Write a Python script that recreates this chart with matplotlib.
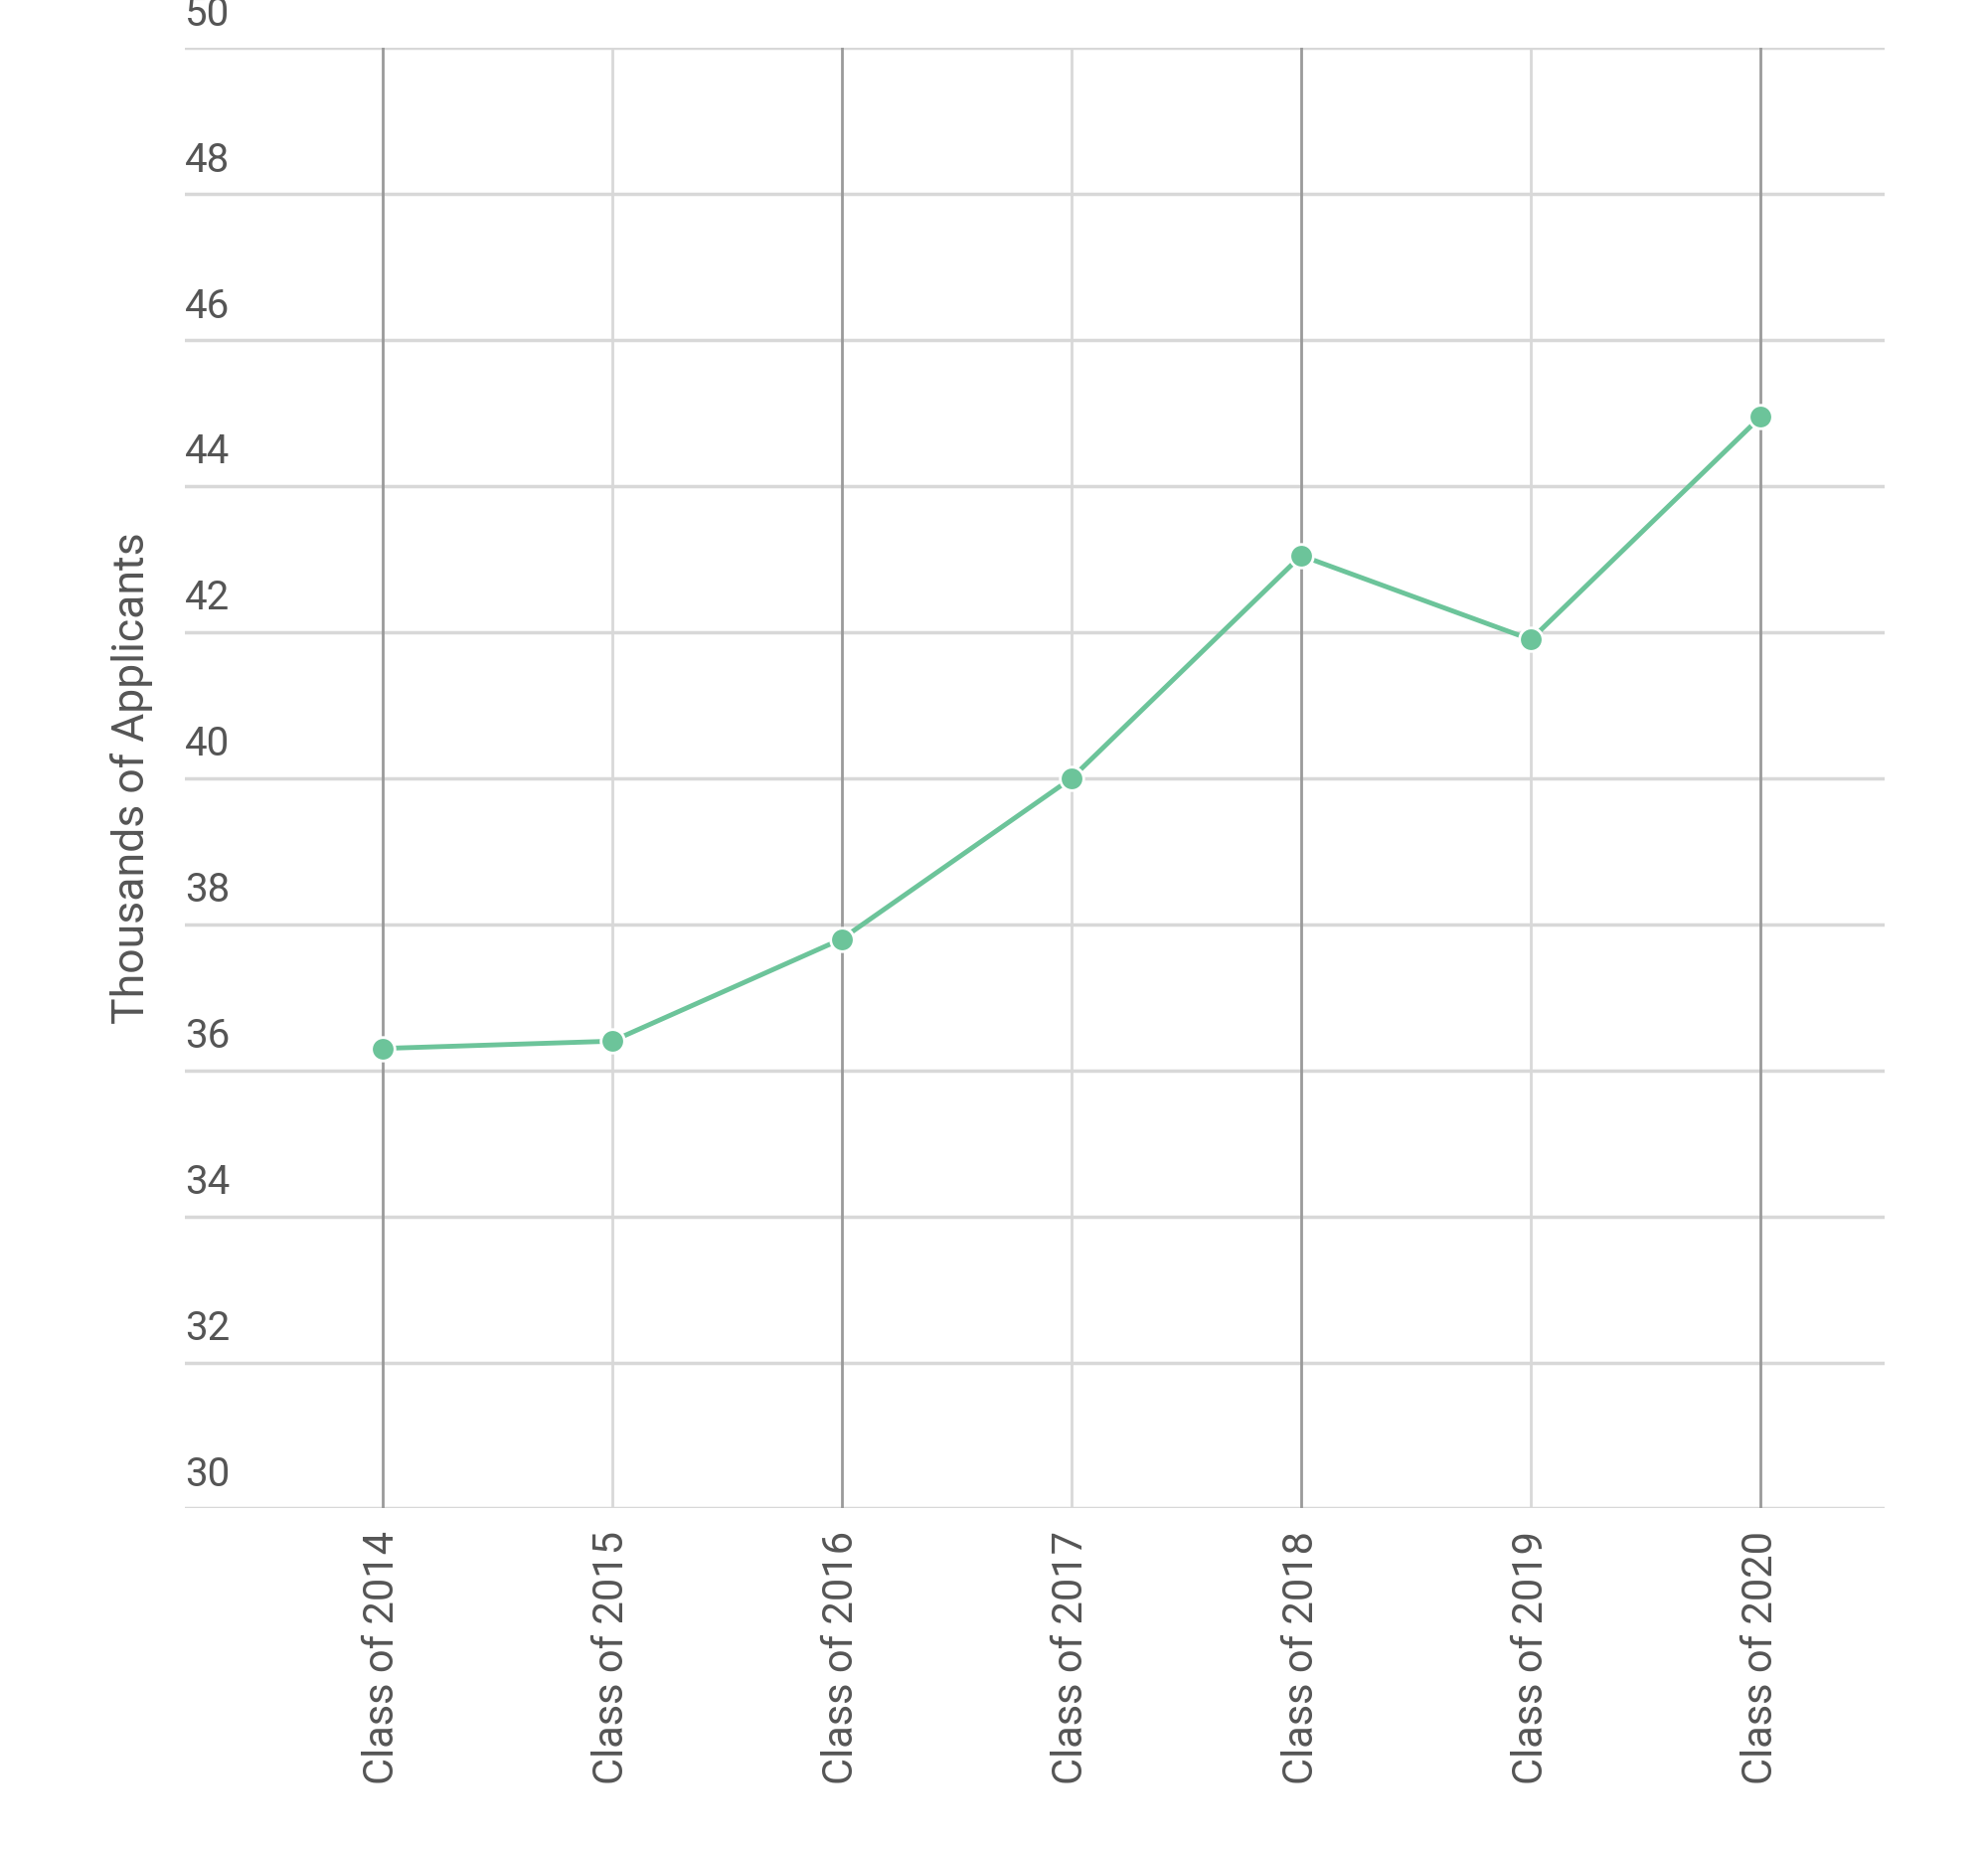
import matplotlib
matplotlib.use("Agg")
import matplotlib.pyplot as plt

categories = ["Class of 2014","Class of 2015","Class of 2016","Class of 2017","Class of 2018","Class of 2019","Class of 2020"]
values = [36.3, 36.4, 37.8, 40.0, 43.05, 41.9, 44.95]
yticks = [30,32,34,36,38,40,42,44,46,48,50]

plt.rcParams['font.family'] = ['Roboto', 'DejaVu Sans']
fig = plt.figure(figsize=(20, 18.63), dpi=100)
ax = fig.add_axes([0.093, 0.1855, 0.855, 0.7885])
ax.set_xlim(-0.86, 6.54)
ax.set_ylim(30, 50)
for s in ax.spines.values():
    s.set_visible(False)
for y in yticks:
    ax.axhline(y, color='#d8d8d8', lw=2.5, zorder=0)
    ax.text(-0.86, y + 0.2, str(y), fontsize=29, color='#555555', ha='left', va='bottom')
for i in range(len(categories)):
    ax.axvline(i, color='#9a9a9a' if i % 2 == 0 else '#d8d8d8', lw=2, zorder=0)
ax.plot(range(len(categories)), values, color='#6cc49a', lw=3.5, marker='o', ms=17,
        markeredgecolor='white', markeredgewidth=2, zorder=3)
ax.set_yticks([])
ax.set_xticks(range(len(categories)))
ax.set_xticklabels(categories, rotation=90, fontsize=30, color='#555555')
ax.tick_params(axis='x', length=0, pad=16)
fig.text(0.066, 0.58, "Thousands of Applicants", rotation=90, fontsize=32, color='#555555', ha='center', va='center')
fig.savefig("out.png")
